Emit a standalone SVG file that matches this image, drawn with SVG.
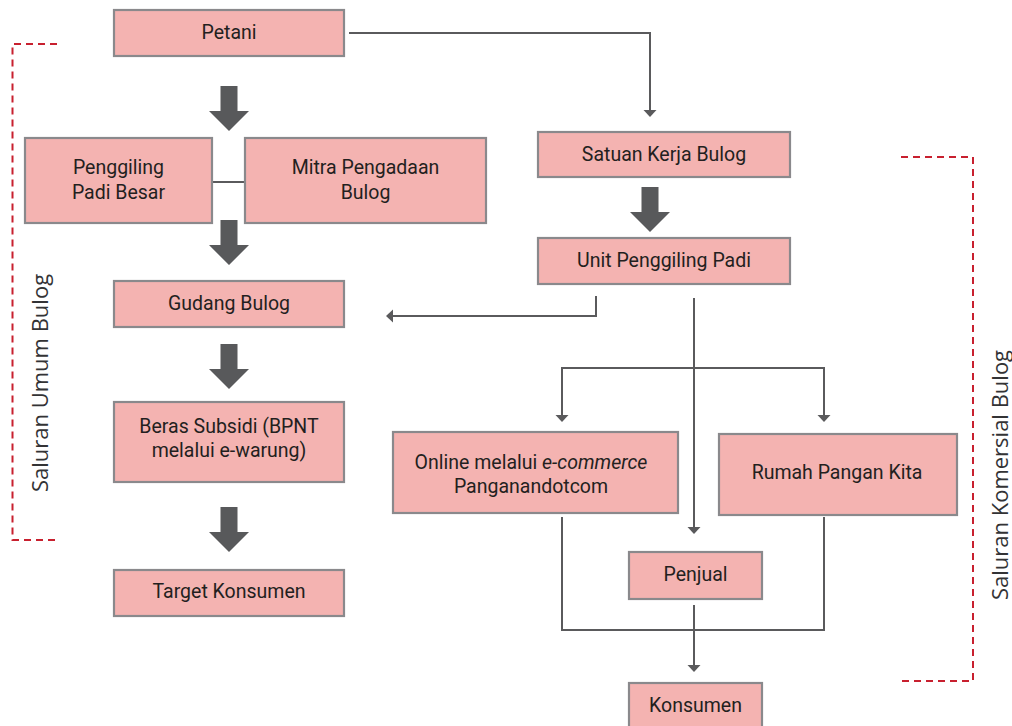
<svg xmlns="http://www.w3.org/2000/svg" width="1012" height="726" viewBox="0 0 1012 726">
<style>
.box{fill:#f4b3b1;stroke:#8a898c;stroke-width:2.2}
.t{font-family:Roboto,"Liberation Sans",sans-serif;font-size:19.5px;fill:#231f20;text-anchor:middle}
.c{fill:none;stroke:#5a5a5c;stroke-width:2}
.big{fill:#58595b}
.dash{fill:none;stroke:#c8202f;stroke-width:2;stroke-dasharray:7 5}
.side{font-family:"Open Sans","Noto Sans",sans-serif;font-size:22px;fill:#333335;text-anchor:middle}
</style>
<defs>
<marker id="ah" markerUnits="userSpaceOnUse" markerWidth="8" markerHeight="14" refX="4" refY="7" orient="auto" viewBox="0 0 8 14">
<path d="M0,0.5 L7,7 L0,13.5 z" fill="#5a5a5c"/>
</marker>
<polygon id="bigarrow" class="big" points="-8.5,0 8.5,0 8.5,25 20,25 0,45 -20,25 -8.5,25"/>
</defs>

<g id="connectors">
<polyline class="c" points="349,33 650,33 650,114" marker-end="url(#ah)"/>
<line class="c" x1="212" y1="182" x2="245" y2="182"/>
<polyline class="c" points="596,296 596,316 389,316" marker-end="url(#ah)"/>
<line class="c" x1="694" y1="298" x2="694" y2="531" marker-end="url(#ah)"/>
<polyline class="c" points="694,368 562,368 562,419" marker-end="url(#ah)"/>
<polyline class="c" points="694,368 824,368 824,419" marker-end="url(#ah)"/>
<polyline class="c" points="562,517 562,630 824,630 824,517"/>
<line class="c" x1="694" y1="605" x2="694" y2="669" marker-end="url(#ah)"/>
<use href="#bigarrow" x="229" y="86"/>
<use href="#bigarrow" x="229" y="220"/>
<use href="#bigarrow" x="229" y="344"/>
<use href="#bigarrow" x="229" y="507"/>
<use href="#bigarrow" x="650" y="187"/>
</g>

<g id="petani"><rect class="box" x="114" y="10" width="230" height="46"/><text class="t" x="229" y="39">Petani</text></g>
<g id="penggiling"><rect class="box" x="25" y="138" width="187" height="85"/><text class="t" x="118.5" y="174">Penggiling</text><text class="t" x="118.5" y="199">Padi Besar</text></g>
<g id="mitra"><rect class="box" x="245" y="138" width="241" height="85"/><text class="t" x="365.5" y="174">Mitra Pengadaan</text><text class="t" x="365.5" y="199">Bulog</text></g>
<g id="gudang"><rect class="box" x="114" y="281" width="230" height="46"/><text class="t" x="229" y="310">Gudang Bulog</text></g>
<g id="beras"><rect class="box" x="114" y="402" width="230" height="80"/><text class="t" x="229" y="433">Beras Subsidi (BPNT</text><text class="t" x="229" y="457">melalui e-warung)</text></g>
<g id="target"><rect class="box" x="114" y="570" width="230" height="46"/><text class="t" x="229" y="598">Target Konsumen</text></g>
<g id="satuan"><rect class="box" x="538" y="132" width="252" height="45"/><text class="t" x="664" y="161">Satuan Kerja Bulog</text></g>
<g id="unit"><rect class="box" x="538" y="238" width="252" height="46"/><text class="t" x="664" y="267">Unit Penggiling Padi</text></g>
<g id="online"><rect class="box" x="393" y="432" width="285" height="81"/><text class="t" x="531" y="469">Online melalui <tspan font-style="italic">e-commerce</tspan></text><text class="t" x="531" y="493">Panganandotcom</text></g>
<g id="rumah"><rect class="box" x="719" y="434" width="238" height="81"/><text class="t" x="837" y="479">Rumah Pangan Kita</text></g>
<g id="penjual"><rect class="box" x="629" y="552" width="133" height="47"/><text class="t" x="695.5" y="581">Penjual</text></g>
<g id="konsumen"><rect class="box" x="629" y="683" width="133" height="47"/><text class="t" x="695.5" y="712">Konsumen</text></g>

<g id="bracket-umum">
<polyline class="dash" points="57,44 12.5,44 12.5,540 57,540"/>
<text class="side" transform="translate(48,383) rotate(-90)">Saluran Umum Bulog</text>
</g>
<g id="bracket-komersial">
<polyline class="dash" points="901,157 973,157 973,681 901,681"/>
<text class="side" transform="translate(1008,475) rotate(-90)">Saluran Komersial Bulog</text>
</g>
</svg>
